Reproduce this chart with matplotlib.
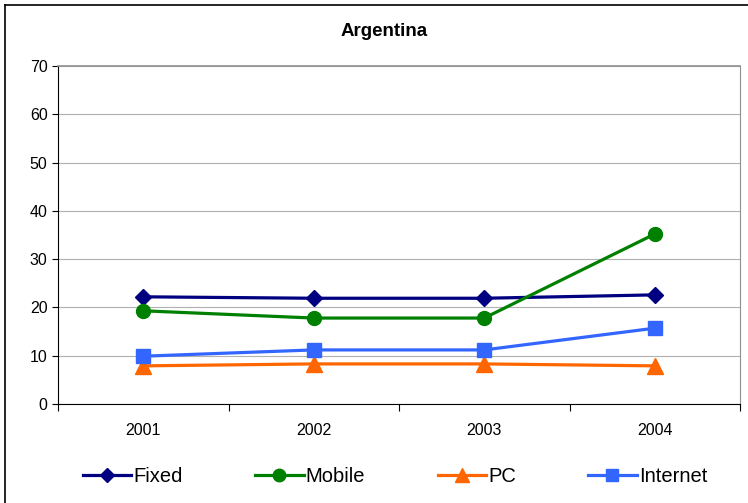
import numpy as np
import matplotlib.pyplot as plt
from matplotlib.lines import Line2D

plt.rcParams['font.family'] = ['Liberation Sans', 'DejaVu Sans']

years = ['2001', '2002', '2003', '2004']
fixed = [22.2, 21.9, 21.9, 22.6]
mobile = [19.3, 17.8, 17.8, 35.2]
pc = [7.9, 8.3, 8.3, 7.9]
internet = [9.9, 11.2, 11.2, 15.7]

fig = plt.figure(figsize=(7.48, 5.03), dpi=100)
ax = fig.add_axes([58/748, 1-404/503, (740-58)/748, (404-66)/503])

x = np.arange(len(years))
ax.plot(x, fixed, color='#000080', lw=2.3, marker='D', ms=8, label='Fixed')
ax.plot(x, mobile, color='#008000', lw=2.3, marker='o', ms=10, label='Mobile')
ax.plot(x, pc, color='#FF6600', lw=2.3, marker='^', ms=11, label='PC')
ax.plot(x, internet, color='#3366FF', lw=2.3, marker='s', ms=10, label='Internet')

ax.set_xlim(-0.5, 3.5)
ax.set_ylim(0, 70)
ax.set_yticks(range(0, 71, 10))
ax.set_xticks(x)
ax.set_xticklabels(years)
ax.set_xticks(np.arange(-0.5, 3.6, 1), minor=True)
ax.tick_params(axis='x', which='major', length=0, pad=14, labelsize=11.5)
ax.tick_params(axis='x', which='minor', length=5, direction='out', width=0.8)
ax.tick_params(axis='y', length=4, direction='out', width=0.8, labelsize=11.5)
ax.yaxis.grid(True, color='#b0b0b0', lw=0.8)
ax.set_axisbelow(True)
for s in ['top', 'right']:
    ax.spines[s].set_color('#909090')
for s in ['left', 'bottom']:
    ax.spines[s].set_color('black')
ax.spines['top'].set_linewidth(1.2)

fig.text(384/748, 1-31/503, 'Argentina', ha='center', va='center',
         fontsize=13.5, fontweight='bold')

handles, labels = ax.get_legend_handles_labels()
fig.legend(handles, labels, loc='center', bbox_to_anchor=(395/748, 1-477/503),
           ncol=4, frameon=False, fontsize=14.5, handlelength=2.4,
           handletextpad=0.1, columnspacing=3.6, markerscale=0.9)

# outer chart border (left and top visible)
fig.add_artist(Line2D([5/748, 5/748], [0, 1-5/503], color='black', lw=1.2,
                      transform=fig.transFigure))
fig.add_artist(Line2D([5/748, 1], [1-5/503, 1-5/503], color='black', lw=1.2,
                      transform=fig.transFigure))

fig.savefig('out.png', dpi=100)
